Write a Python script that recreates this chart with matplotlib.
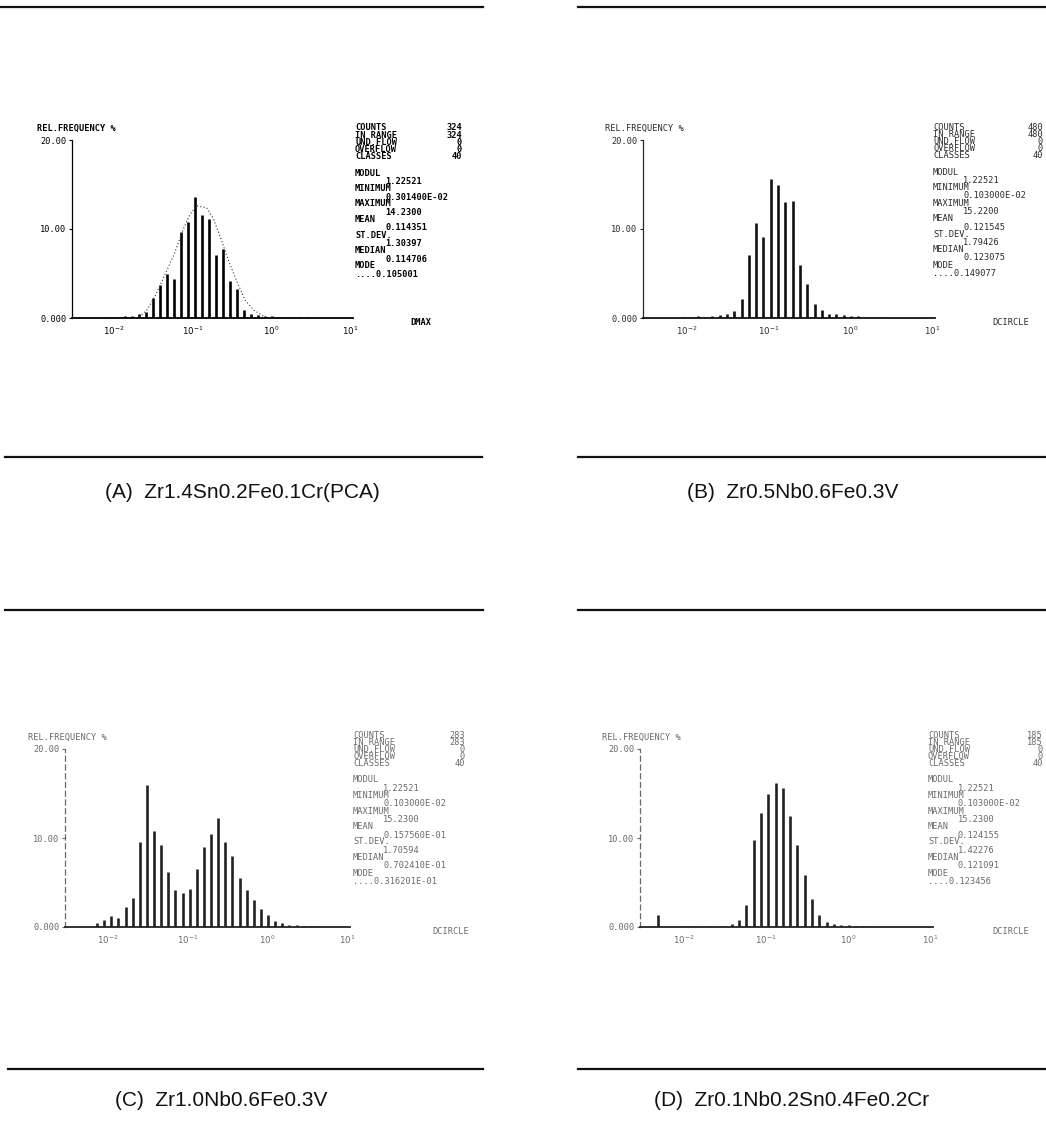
import numpy as np
import matplotlib
matplotlib.use("Agg")
import matplotlib.pyplot as plt
from matplotlib.lines import Line2D

W, H = 1046, 1126

# 40 log-spaced classes (CLASSES = 40) spanning the x axis
log_lo, log_hi = -2.53, 1.03
n_classes = 40

# relative frequency (%) per class
freq_a = [0, 0, 0, 0, 0, 0.1, 0.1, 0.2, 0.2, 0.4,
          0.7, 2.2, 3.7, 5.0, 4.4, 9.7, 10.8, 13.6, 11.6, 11.1,
          7.1, 7.8, 4.2, 3.3, 0.9, 0.5, 0.3, 0.2, 0.2, 0.1,
          0.1, 0.1, 0.1, 0.1, 0, 0, 0, 0, 0, 0]
freq_b = [0, 0, 0, 0, 0, 0.1, 0.1, 0.2, 0.1, 0.2,
          0.3, 0.4, 0.8, 2.1, 7.1, 10.7, 9.1, 15.6, 14.9, 13.0,
          13.1, 5.9, 3.8, 1.6, 0.9, 0.5, 0.4, 0.3, 0.2, 0.2,
          0.1, 0.1, 0.1, 0, 0, 0, 0, 0, 0, 0]
freq_c = [0, 0, 0, 0, 0.4, 0.8, 1.2, 1.0, 2.2, 3.3,
          9.5, 16.0, 10.8, 9.2, 6.2, 4.2, 3.8, 4.3, 6.5, 9.0,
          10.5, 12.3, 9.5, 8.0, 5.5, 4.2, 3.0, 2.0, 1.3, 0.7,
          0.4, 0.2, 0.2, 0.1, 0.1, 0.1, 0, 0, 0, 0]
freq_d = [0, 0, 1.3, 0, 0, 0.1, 0, 0.1, 0, 0.1,
          0, 0.1, 0.3, 0.8, 2.5, 9.8, 12.8, 15.0, 16.2, 15.6,
          12.5, 9.2, 5.8, 3.2, 1.4, 0.6, 0.3, 0.2, 0.2, 0.1,
          0.1, 0.1, 0, 0, 0, 0, 0, 0, 0, 0]

# dotted fitted curve drawn over histogram A
curve_a_log = [-1.677, -1.571, -1.464, -1.336, -1.230, -1.124, -1.038, -0.953,
               -0.825, -0.741, -0.655, -0.549, -0.442, -0.336, -0.230, -0.102]
curve_a_val = [0.1, 1.0, 2.7, 5.2, 7.3, 9.9, 11.6, 12.6,
               12.4, 11.2, 9.2, 6.5, 4.1, 2.0, 0.9, 0.2]

count_names = ["COUNTS", "IN RANGE", "UND.FLOW", "OVERFLOW", "CLASSES"]
counts_a = ["324", "324", "0", "0", "40"]
counts_b = ["480", "480", "0", "0", "40"]
counts_c = ["283", "283", "0", "0", "40"]
counts_d = ["185", "185", "0", "0", "40"]

stat_names = ["MODUL", "MINIMUM", "MAXIMUM", "MEAN", "ST.DEV.", "MEDIAN", "MODE"]
stats_a = ["1.22521", "0.301400E-02", "14.2300", "0.114351", "1.30397", "0.114706", "....0.105001"]
stats_b = ["1.22521", "0.103000E-02", "15.2200", "0.121545", "1.79426", "0.123075", "....0.149077"]
stats_c = ["1.22521", "0.103000E-02", "15.2300", "0.157560E-01", "1.70594", "0.702410E-01", "....0.316201E-01"]
stats_d = ["1.22521", "0.103000E-02", "15.2300", "0.124155", "1.42276", "0.121091", "....0.123456"]

captions = ["(A)  Zr1.4Sn0.2Fe0.1Cr(PCA)", "(B)  Zr0.5Nb0.6Fe0.3V",
            "(C)  Zr1.0Nb0.6Fe0.3V", "(D)  Zr0.1Nb0.2Sn0.4Fe0.2Cr"]
x_names = ["DMAX", "DCIRCLE", "DCIRCLE", "DCIRCLE"]
xtick_vals = [1e-2, 1e-1, 1e0, 1e1]
xtick_text = [r"$10^{-2}$", r"$10^{-1}$", r"$10^{0}$", r"$10^{1}$"]

plt.rcParams["mathtext.fontset"] = "dejavusans"
fig = plt.figure(figsize=(W / 100, H / 100), dpi=100)
fig.patch.set_facecolor("white")


def fx(x):
    return x / W


def fy(y):
    return 1 - y / H


def ptext(x, y, s, **kw):
    kw.setdefault("family", "DejaVu Sans Mono")
    kw.setdefault("fontsize", 6.2)
    kw.setdefault("va", "center")
    fig.text(fx(x), fy(y), s, **kw)


edges = np.logspace(log_lo, log_hi, n_classes + 1)
centers = np.sqrt(edges[:-1] * edges[1:])

# panel boxes in pixels: left, right, top, bottom
boxes = [(72, 353, 140, 318), (643, 935, 140, 318),
         (65, 350, 749, 927), (640, 933, 749, 927)]
freqs = [freq_a, freq_b, freq_c, freq_d]
counts = [counts_a, counts_b, counts_c, counts_d]
stats = [stats_a, stats_b, stats_c, stats_d]
text_col = ["black", "#2a2a2a", "#6a6a6a", "#6a6a6a"]
bar_col = ["black", "#111111", "#222222", "#222222"]
rel_pos = [(37, 128), (605, 128), (28, 737), (602, 737)]
blk_pos = [(355, 128, 462), (933, 127, 1043), (353, 735, 465), (928, 735, 1043)]
xname_pos = [(410, 322), (992, 322), (432, 931), (992, 931)]
cap_pos = [(242, 493), (793, 493), (221, 1101), (792, 1101)]

for i in range(4):
    l, r, t, b = boxes[i]
    ax = fig.add_axes([fx(l), fy(b), fx(r) - fx(l), fy(t) - fy(b)])
    ax.set_xscale("log")
    ax.set_xlim(edges[0], edges[-1])
    ax.set_ylim(0, 20)
    f = np.array(freqs[i])
    nz = f > 0
    ax.vlines(centers[nz], 0, f[nz], color=bar_col[i], lw=1.9)
    if i == 0:
        ax.plot(10 ** np.array(curve_a_log), curve_a_val, ls=(0, (1, 2)),
                color="#333333", lw=0.8)
    for s in ["top", "right"]:
        ax.spines[s].set_visible(False)
    ax.spines["bottom"].set_linewidth(1.3)
    ax.spines["left"].set_linewidth(0.9)
    ax.spines["left"].set_color(text_col[i])
    ax.spines["bottom"].set_color(bar_col[i])
    if i >= 2:
        ax.spines["left"].set_linestyle((0, (4, 3)))
    ax.set_facecolor("none")
    ax.set_yticks([0, 10, 20], ["0.000", "10.00", "20.00"],
                  family="DejaVu Sans Mono", fontsize=6.2, color=text_col[i])
    ax.set_xticks(xtick_vals, xtick_text, fontsize=6.2, color=text_col[i])
    ax.xaxis.set_minor_locator(matplotlib.ticker.NullLocator())
    ax.tick_params(axis="y", length=2.5, width=0.8, pad=1.5, colors=text_col[i])
    ax.tick_params(axis="x", length=0, pad=4.5, colors=text_col[i])

    col = text_col[i]
    wt = "bold" if i == 0 else "normal"
    rx, ry = rel_pos[i]
    ptext(rx, ry, "REL.FREQUENCY %", color=col, weight=wt)
    bx, by, vr = blk_pos[i]
    for j, name in enumerate(count_names):
        ptext(bx, by + 7.2 * j, name, color=col, weight=wt)
        ptext(vr, by + 7.2 * j, counts[i][j], color=col, weight=wt, ha="right")
    for j, name in enumerate(stat_names):
        yy = by + 45 + 15.5 * j
        ptext(bx, yy, name, color=col, weight=wt)
        val = stats[i][j]
        vx = bx if val.startswith("....") else bx + 30
        ptext(vx, yy + 8.5, val, color=col, weight=wt)
    nx, ny = xname_pos[i]
    ptext(nx, ny, x_names[i], color=col, weight=wt)

    cx, cy = cap_pos[i]
    fig.text(fx(cx), fy(cy), captions[i], ha="center", va="center",
             family=["Liberation Sans Narrow", "Liberation Sans"], fontsize=15,
             color="#111111")

rules = [(0, 483, 7), (578, 1046, 7), (5, 482, 457), (578, 1046, 457),
         (5, 483, 610), (578, 1046, 610), (8, 483, 1069), (578, 1046, 1069)]
for x0, x1, y in rules:
    fig.add_artist(Line2D([fx(x0), fx(x1)], [fy(y), fy(y)],
                          transform=fig.transFigure, lw=1.6, color="#111111"))

fig.savefig("out.png", dpi=100, facecolor="white")
